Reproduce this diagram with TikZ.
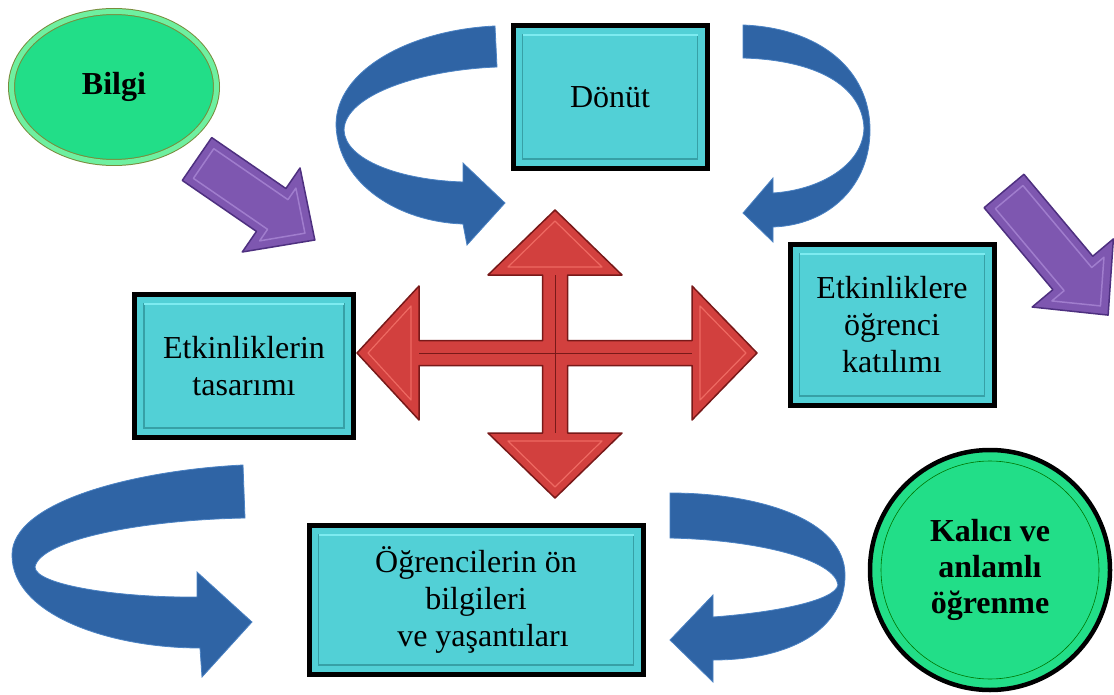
\documentclass[tikz,border=0pt]{standalone}
\usepackage{fontspec}
\setmainfont{Liberation Serif}
\usetikzlibrary{shapes.geometric}

\definecolor{boxcyan}{RGB}{82,208,214}
\definecolor{boxdark}{RGB}{55,160,166}
\definecolor{boxlight}{RGB}{125,235,240}
\definecolor{leafgreen}{RGB}{34,222,136}
\definecolor{rimgreen}{RGB}{110,240,160}
\definecolor{rimolive}{RGB}{120,140,60}
\definecolor{ribbonblue}{RGB}{47,100,165}
\definecolor{ribbonedge}{RGB}{75,130,195}
\definecolor{violetfill}{RGB}{126,87,176}
\definecolor{violetdark}{RGB}{78,48,128}
\definecolor{violetlight}{RGB}{160,125,205}
\definecolor{crossred}{RGB}{210,64,62}
\definecolor{crossdark}{RGB}{120,25,25}
\definecolor{crosslight}{RGB}{238,105,98}

\tikzset{
    infobox/.style={draw=black, line width=5pt, fill=boxcyan, align=center,
        inner sep=0pt, font=\fontsize{32pt}{37pt}\selectfont},
    boxbevel/.style={draw=boxdark, line width=1.2pt},
    ribbon/.style={fill=ribbonblue, draw=ribbonedge, line width=0.8pt},
    purplearrow/.style={fill=violetfill, draw=violetdark, line width=1.5pt, line join=round},
    purplebevel/.style={draw=violetlight, line width=1.5pt, line join=round},
    redarrow/.style={fill=crossred, draw=crossdark, line width=1.5pt, line join=round},
    redbevel/.style={draw=crosslight, line width=1.2pt, line join=round}
}

\begin{document}
\begin{tikzpicture}[x=1pt, y=-1pt]
    \useasboundingbox (0,0) rectangle (1114,695);

    % blue ribbon arrows
    \filldraw[ribbon] (495,26) .. controls (410,30) and (336,70) .. (336,125)
        .. controls (338,185) and (400,222) .. (463,224) -- (467,245) -- (505,203)
        -- (463,163) -- (463,182) .. controls (400,180) and (345,160) .. (344,130)
        .. controls (345,95) and (420,70) .. (497,67) -- cycle;
    \filldraw[ribbon] (743,25) .. controls (820,28) and (870,70) .. (870,130)
        .. controls (870,185) and (830,225) .. (773,227) -- (773,242) -- (743,213)
        -- (773,178) -- (773,193) .. controls (820,190) and (863,165) .. (864,128)
        .. controls (862,85) and (815,60) .. (743,58) -- cycle;
    \filldraw[ribbon] (243,465) .. controls (140,470) and (12,500) .. (12,555)
        .. controls (12,615) and (110,648) .. (200,648) -- (202,677) -- (252,622)
        -- (197,572) -- (197,597) .. controls (120,598) and (35,585) .. (35,567)
        .. controls (40,540) and (140,520) .. (245,518) -- cycle;
    \filldraw[ribbon] (670,493) .. controls (760,493) and (845,520) .. (845,575)
        .. controls (845,630) and (790,660) .. (713,660) -- (713,682) -- (670,640)
        -- (713,595) -- (713,617) .. controls (780,612) and (835,600) .. (838,585)
        .. controls (835,560) and (760,540) .. (670,538) -- cycle;

    % purple arrows
    \begin{scope}[shift={(197,159)}, rotate=-34.5]
        \filldraw[purplearrow] (0,-26) -- (90,-26) -- (90,-51) -- (143,0) -- (90,51) -- (90,26) -- (0,26) -- cycle;
        \draw[purplebevel] (8,-18) -- (98,-18) -- (98,-32) -- (131,0) -- (98,32) -- (98,18) -- (8,18) -- cycle;
    \end{scope}
    \begin{scope}[shift={(1004,191)}, rotate=-50]
        \filldraw[purplearrow] (0,-26) -- (107,-26) -- (107,-53) -- (162,0) -- (107,53) -- (107,26) -- (0,26) -- cycle;
        \draw[purplebevel] (8,-18) -- (115,-18) -- (115,-34) -- (150,0) -- (115,34) -- (115,18) -- (8,18) -- cycle;
    \end{scope}

    % red cross
    \coordinate (cross) at (555,353);
    \begin{scope}[shift={(cross)}]
        \filldraw[redarrow] (12.5,-12.5) -- (12.5,-78) -- (67,-78) -- (0,-143) -- (-67,-78)
            -- (-12.5,-78) -- (-12.5,-12.5) -- (-136,-12.5) -- (-136,-67) -- (-198,0)
            -- (-136,67) -- (-136,12.5) -- (-12.5,12.5) -- (-12.5,80) -- (-67,80)
            -- (0,145) -- (67,80) -- (12.5,80) -- (12.5,12.5) -- (137,12.5)
            -- (137,67) -- (202,0) -- (137,-67) -- (137,-12.5) -- cycle;
        \draw[redbevel] (-47,-86) -- (47,-86) -- (0,-132) -- cycle;
        \draw[redbevel] (-47,88) -- (47,88) -- (0,134) -- cycle;
        \draw[redbevel] (-144,-47) -- (-187,0) -- (-144,47) -- cycle;
        \draw[redbevel] (145,-47) -- (191,0) -- (145,47) -- cycle;
        \draw[crossdark, line width=1pt] (-136,0) -- (137,0);
        \draw[crossdark, line width=1pt] (0,-78) -- (0,80);
    \end{scope}

    % boxes
    \node[infobox, minimum width=194pt, minimum height=143pt] (donut) at (610,97) {D\"on\"ut};
    \node[infobox, minimum width=219pt, minimum height=143pt] (tasarim) at (244,366) {Etkinliklerin\\tasar\i m\i};
    \node[infobox, minimum width=204pt, minimum height=161pt] (katilim) at (892,325) {Etkinliklere\\\"o\u{g}renci\\kat\i l\i m\i};
    \node[infobox, minimum width=334pt, minimum height=149pt] (onbilgi) at (476,600) {\"O\u{g}rencilerin \"on\\bilgileri\\\hspace*{14pt}ve ya\c{s}ant\i lar\i};
    \foreach \b in {donut, tasarim, katilim, onbilgi} {
        \draw[boxbevel] ([shift={(12,12)}]\b.north west) rectangle ([shift={(-12,-12)}]\b.south east);
        \draw[boxlight, line width=1.5pt] ([shift={(12,12)}]\b.north west) -- ([shift={(-12,12)}]\b.north east);
    }

    % green shapes
    \node[ellipse, draw=rimolive, double=rimgreen, double distance=5pt, line width=1pt,
        fill=leafgreen, minimum width=205pt, minimum height=151pt,
        font=\fontsize{32pt}{37pt}\selectfont\bfseries] (bilgi) at (114,87) {Bilgi};
    \node[circle, draw=black, line width=4.5pt, fill=leafgreen, minimum size=240pt,
        align=center, font=\fontsize{32pt}{36pt}\selectfont\bfseries] (kalici) at (990,570)
        {Kal\i c\i{} ve\\anlaml\i\\\"o\u{g}renme};
    \draw[green!45!black, line width=0.6pt] (kalici.center) circle (109);
\end{tikzpicture}
\end{document}
